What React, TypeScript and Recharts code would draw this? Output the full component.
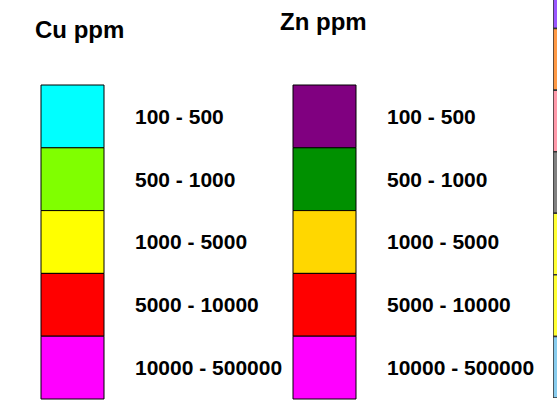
import React from "react";
import { Bar, BarChart, LabelList, XAxis, YAxis } from "recharts";

const ranges = ["100 - 500", "500 - 1000", "1000 - 5000", "5000 - 10000", "10000 - 500000"];
const cuColors = ["#00ffff", "#80ff00", "#ffff00", "#ff0000", "#ff00ff"];
const znColors = ["#800080", "#009000", "#ffd700", "#ff0000", "#ff00ff"];
const stripColors = ["#9955ff", "#ff9944", "#ff99aa", "#808080", "#ffff33", "#ffff33", "#88ccee"];

const FONT = "Liberation Sans, Arial, sans-serif";

function column(n: number) {
  const row: Record<string, number | string> = { name: "box" };
  for (let i = 0; i < n; i++) row["s" + i] = 1;
  return [row];
}

type LegendProps = { colors: string[]; labels: string[] };

function LegendColumn({ colors, labels }: LegendProps) {
  return (
    <BarChart
      width={300}
      height={405}
      data={column(colors.length)}
      margin={{ top: 85, right: 196, bottom: 6, left: 41 }}
      barCategoryGap={0}
    >
      <XAxis dataKey="name" hide />
      <YAxis hide reversed domain={[0, colors.length]} />
      {colors.map((c, i) => (
        <Bar
          key={i}
          dataKey={"s" + i}
          stackId="a"
          fill={c}
          stroke="#000"
          strokeWidth={1}
          isAnimationActive={false}
        >
          <LabelList
            position="right"
            offset={31}
            formatter={() => labels[i]}
            fill="#000"
            style={{ fontFamily: FONT, fontWeight: "bold", fontSize: 21 }}
          />
        </Bar>
      ))}
    </BarChart>
  );
}

export default function App() {
  return (
    <div style={{ position: "relative", width: 557, height: 405, overflow: "hidden", background: "#fff" }}>
      <style>{"body{margin:0}"}</style>
      <div style={{ position: "absolute", left: 0, top: 0 }}>
        <LegendColumn colors={cuColors} labels={ranges} />
      </div>
      <div style={{ position: "absolute", left: 252, top: 0 }}>
        <LegendColumn colors={znColors} labels={ranges} />
      </div>
      <div style={{ position: "absolute", left: 553, top: -33 }}>
        <BarChart
          width={20}
          height={431}
          data={column(stripColors.length)}
          margin={{ top: 0, right: 0, bottom: 0, left: 0 }}
          barCategoryGap={0}
        >
          <XAxis dataKey="name" hide />
          <YAxis hide reversed domain={[0, stripColors.length]} />
          {stripColors.map((c, i) => (
            <Bar
              key={i}
              dataKey={"s" + i}
              stackId="a"
              fill={c}
              stroke="#333"
              strokeWidth={1.5}
              isAnimationActive={false}
            />
          ))}
        </BarChart>
      </div>
      <svg width={557} height={405} style={{ position: "absolute", left: 0, top: 0, pointerEvents: "none" }}>
        <text x={35} y={38} fontFamily={FONT} fontWeight="bold" fontSize={24} fill="#000">
          Cu ppm
        </text>
        <text x={280} y={30} fontFamily={FONT} fontWeight="bold" fontSize={24} fill="#000">
          Zn ppm
        </text>
      </svg>
    </div>
  );
}
